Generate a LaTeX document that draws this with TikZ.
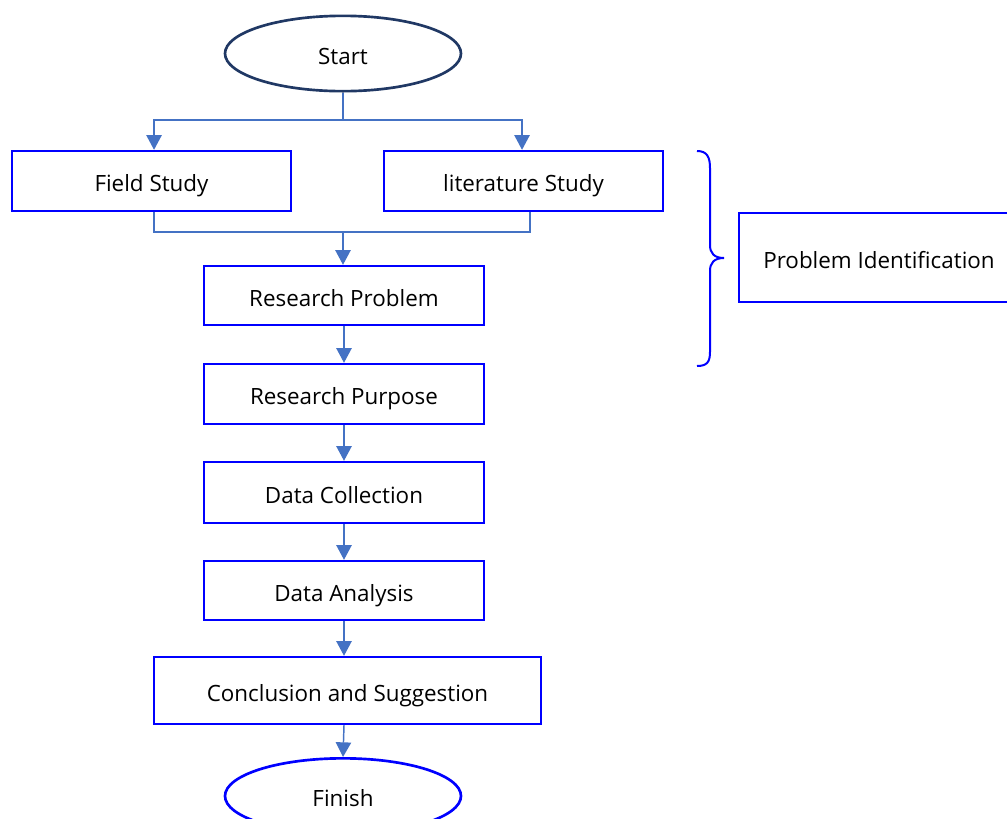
\documentclass[tikz,border=0pt]{standalone}
\usepackage{fontspec}
\setmainfont{Open Sans}
\usetikzlibrary{arrows.meta,shapes.geometric}
\definecolor{conn}{HTML}{4472C4}
\definecolor{navy}{HTML}{203864}
\definecolor{bblue}{HTML}{0000FF}
\tikzset{
  lowered/.style={text height=16pt, text depth=0pt},
  stepbox/.style={draw=bblue, line width=1.8pt, rectangle, inner sep=0pt, lowered, font=\fontsize{16.8pt}{20pt}\selectfont},
  term/.style={ellipse, line width=2pt, inner sep=0pt, lowered, minimum width=177pt, minimum height=56.5pt, font=\fontsize{16.8pt}{20pt}\selectfont},
  conline/.style={draw=conn, line width=1.1pt},
  arr/.style={conline, -{Triangle[width=11.5pt,length=11pt]}},
}
\begin{document}
\begin{tikzpicture}[x=0.75pt,y=-0.75pt]
\useasboundingbox (0,0) rectangle (1007,818);
\clip (0,0) rectangle (1007,818);
\node[term, draw=navy] (start) at (343,53.5) {Start};
\node[stepbox, minimum width=209.25pt, minimum height=45pt] (field) at (151.5,181) {Field Study};
\node[stepbox, minimum width=209.25pt, minimum height=45pt] (lit) at (523.5,181) {literature Study};
\node[stepbox, minimum width=210pt, minimum height=44.25pt] (rp) at (344,295.5) {Research Problem};
\node[stepbox, minimum width=210pt, minimum height=45pt] (rpur) at (344,394) {Research Purpose};
\node[stepbox, minimum width=210pt, minimum height=45.75pt] (dc) at (344,492.5) {Data Collection};
\node[stepbox, minimum width=210pt, minimum height=44.25pt] (da) at (344,590.5) {Data Analysis};
\node[stepbox, minimum width=290.25pt, minimum height=50.25pt] (concl) at (347.5,690.5) {Conclusion and Suggestion};
\node[term, draw=bblue] (finish) at (343,796) {Finish};
\node[stepbox, minimum width=210pt, minimum height=66.75pt] (pid) at (879,257.5) {Problem Identification};
% split
\coordinate (s) at (343,120);
\draw[conline] (start.south) -- (s);
\draw[arr] (s) -| ([xshift=1.9pt]field.north);
\draw[arr] (s) -| ([xshift=-1.1pt]lit.north);
% merge
\coordinate (m) at (343,232);
\draw[conline] ([xshift=1.9pt]field.south) |- (m);
\draw[conline] ([xshift=4.9pt]lit.south) |- (m);
\draw[arr] (m) -- (m |- rp.north);
\draw[arr] (rp.south) -- (rpur.north);
\draw[arr] (rpur.south) -- (dc.north);
\draw[arr] (dc.south) -- (da.north);
\draw[arr] (da.south) -- (da.south |- concl.north);
\draw[arr] (da.south |- concl.south) -- (finish.north);
% brace
\draw[draw=bblue, line width=1.5pt] (697,151) .. controls (707,151) and (710,157) .. (710,168) -- (710,245) .. controls (710,253) and (714,258) .. (724,258) .. controls (714,258) and (710,263) .. (710,271) -- (710,352) .. controls (710,362) and (707,366) .. (697,366);
\end{tikzpicture}
\end{document}
